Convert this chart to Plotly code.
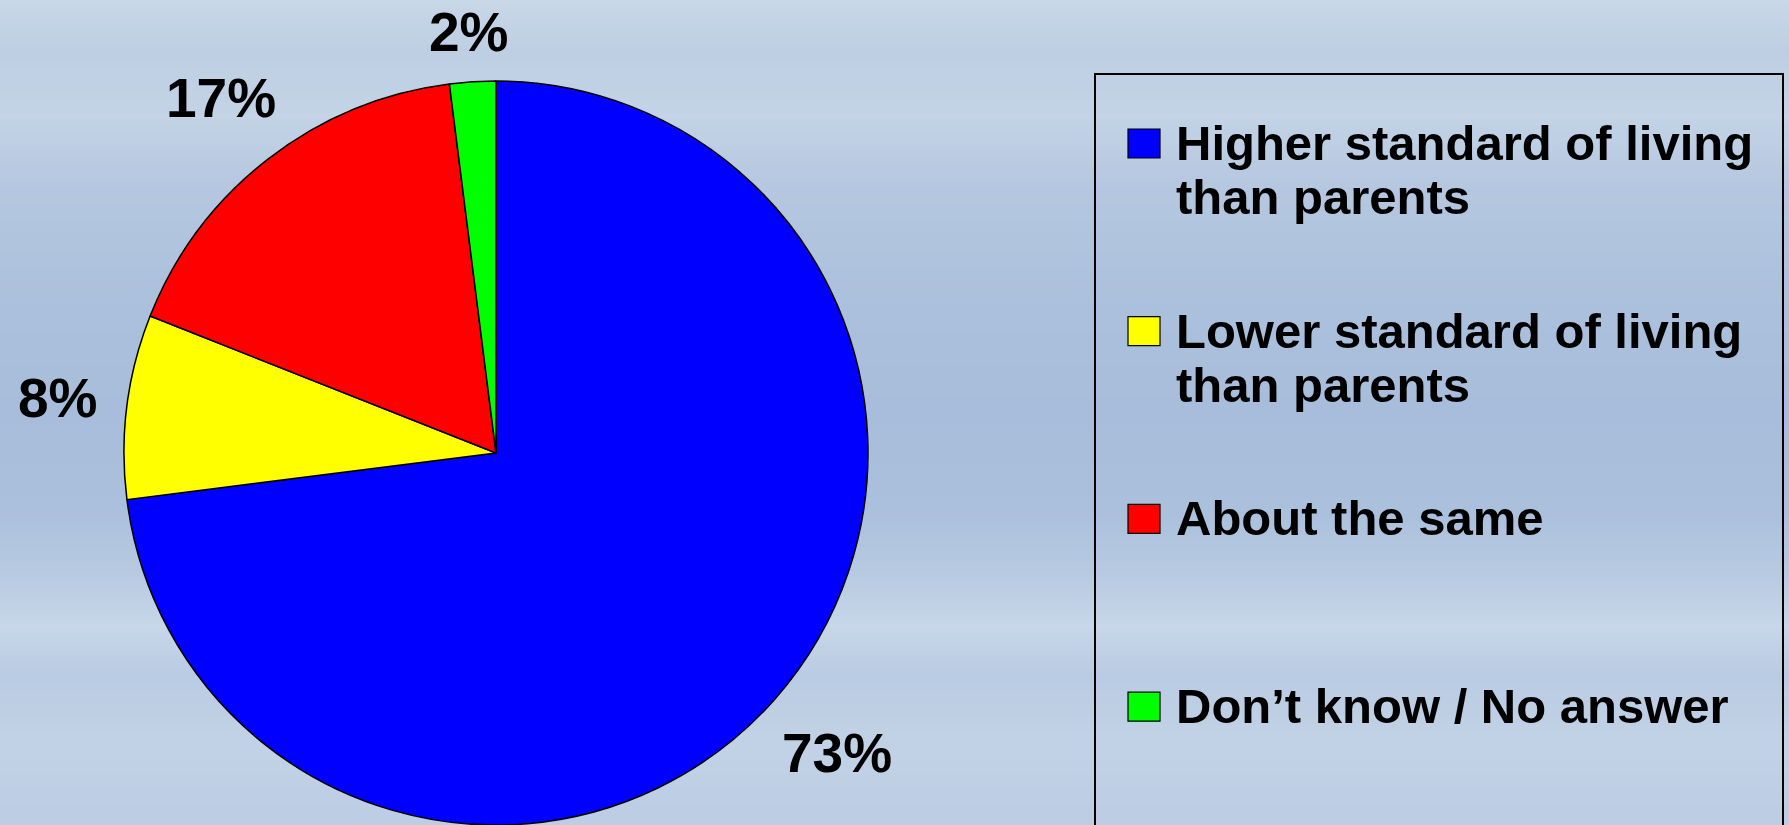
import base64
import math
import struct
import textwrap
import zlib

import plotly.graph_objects as go

# ---------------- data ----------------
categories = [
    "Higher standard of living than parents",
    "Lower standard of living than parents",
    "About the same",
    "Don\u2019t know / No answer",
]
shares = [73, 8, 17, 2]
slice_colors = ["#0000FF", "#FFFF00", "#FF0000", "#00FF00"]

# ---------------- canvas ----------------
W, H = 1789, 825
FONT = "Arial, 'Liberation Sans', Helvetica, sans-serif"


def px_x(x):
    return x / W


def px_y(y):
    return 1 - y / H


# ---------------- sky background (vertical gradient image) ----------------
sky_stops = [
    (0.00, (200, 215, 232)),
    (0.06, (190, 207, 228)),
    (0.14, (196, 211, 230)),
    (0.22, (182, 200, 224)),
    (0.35, (172, 193, 220)),
    (0.50, (167, 189, 219)),
    (0.62, (171, 192, 220)),
    (0.70, (185, 203, 226)),
    (0.76, (200, 215, 233)),
    (0.82, (186, 204, 227)),
    (0.90, (194, 210, 230)),
    (1.00, (188, 205, 228)),
]


def sky_color(t):
    for (t0, c0), (t1, c1) in zip(sky_stops[:-1], sky_stops[1:]):
        if t0 <= t <= t1:
            f = (t - t0) / (t1 - t0)
            return tuple(int(round(a + (b - a) * f)) for a, b in zip(c0, c1))
    return sky_stops[-1][1]


def make_png(width, height):
    raw = b""
    for j in range(height):
        c = sky_color(j / (height - 1))
        raw += b"\x00" + bytes(c) * width

    def chunk(tag, data):
        return (struct.pack(">I", len(data)) + tag + data
                + struct.pack(">I", zlib.crc32(tag + data) & 0xFFFFFFFF))
    ihdr = struct.pack(">IIBBBBB", width, height, 8, 2, 0, 0, 0)
    png = (b"\x89PNG\r\n\x1a\n" + chunk(b"IHDR", ihdr)
           + chunk(b"IDAT", zlib.compress(raw)) + chunk(b"IEND", b""))
    return "data:image/png;base64," + base64.b64encode(png).decode()


sky_uri = make_png(4, 200)

# ---------------- pie ----------------
cx, r = 496, 372
cy = H - r
fig = go.Figure(
    go.Pie(
        labels=categories,
        values=shares,
        sort=False,
        direction="clockwise",
        rotation=0,
        marker=dict(colors=slice_colors, line=dict(color="black", width=1.5)),
        textinfo="none",
        domain=dict(x=[(cx - r) / W, (cx + r) / W], y=[0, 2 * r / H]),
        showlegend=False,
        hoverinfo="label+percent",
    )
)

# ---------------- percentage labels, placed radially from each slice's mid-angle ----------------
LABEL_FONT, LABEL_GAP = 55, 28
annotations = []
total = sum(shares)
cum = 0
for v in shares:
    mid = (cum + v / 2) / total * 2 * math.pi  # clockwise from 12 o'clock
    cum += v
    dx, dy = math.sin(mid), -math.cos(mid)
    txt = f"{v}%"
    w = LABEL_FONT * (0.556 * (len(txt) - 1) + 0.889)
    h = LABEL_FONT * 0.72
    ext = abs(dx) * w / 2 + abs(dy) * h / 2
    d = r + LABEL_GAP + ext
    annotations.append(dict(
        xref="paper", yref="paper", x=px_x(cx + d * dx), y=px_y(cy + d * dy),
        xanchor="center", yanchor="middle", showarrow=False, text=txt,
        font=dict(family=FONT, size=LABEL_FONT, color="black", weight="bold"),
    ))

# ---------------- legend (box, swatches, labels) ----------------
shapes = [
    dict(type="rect", xref="paper", yref="paper",
         x0=px_x(1095), x1=px_x(1783), y0=px_y(74), y1=px_y(840),
         line=dict(color="black", width=2), fillcolor="rgba(0,0,0,0)", layer="above")
]
SQ_X0, SQ_W, SQ_H = 1128, 32, 29
ITEM_TOP0, ITEM_STEP = 129, 187.7
TEXT_X, LINE_GAP, LEG_FONT = 1174, 54, 49
for i, (cat, col) in enumerate(zip(categories, slice_colors)):
    top = ITEM_TOP0 + i * ITEM_STEP
    shapes.append(dict(type="rect", xref="paper", yref="paper",
                       x0=px_x(SQ_X0), x1=px_x(SQ_X0 + SQ_W),
                       y0=px_y(top), y1=px_y(top + SQ_H),
                       line=dict(color="black", width=1.2), fillcolor=col, layer="above"))
    baseline = top + 31
    for k, line in enumerate(textwrap.wrap(cat, 25)):
        annotations.append(dict(
            xref="paper", yref="paper", x=px_x(TEXT_X),
            y=px_y(baseline + k * LINE_GAP - 0.35 * LEG_FONT),
            xanchor="left", yanchor="middle", showarrow=False, text=line,
            font=dict(family=FONT, size=LEG_FONT, color="black", weight="bold"),
        ))

fig.update_layout(
    width=W, height=H,
    margin=dict(l=0, r=0, t=0, b=0),
    paper_bgcolor="#aec3de",
    plot_bgcolor="rgba(0,0,0,0)",
    images=[dict(source=sky_uri, xref="paper", yref="paper", x=0, y=1,
                 sizex=1, sizey=1, sizing="stretch", layer="below",
                 xanchor="left", yanchor="top")],
    shapes=shapes,
    annotations=annotations,
)

fig.write_html(
    "out.html",
    config={"displayModeBar": False},
    post_script="document.body.style.margin='0';document.body.style.overflow='hidden';",
)
